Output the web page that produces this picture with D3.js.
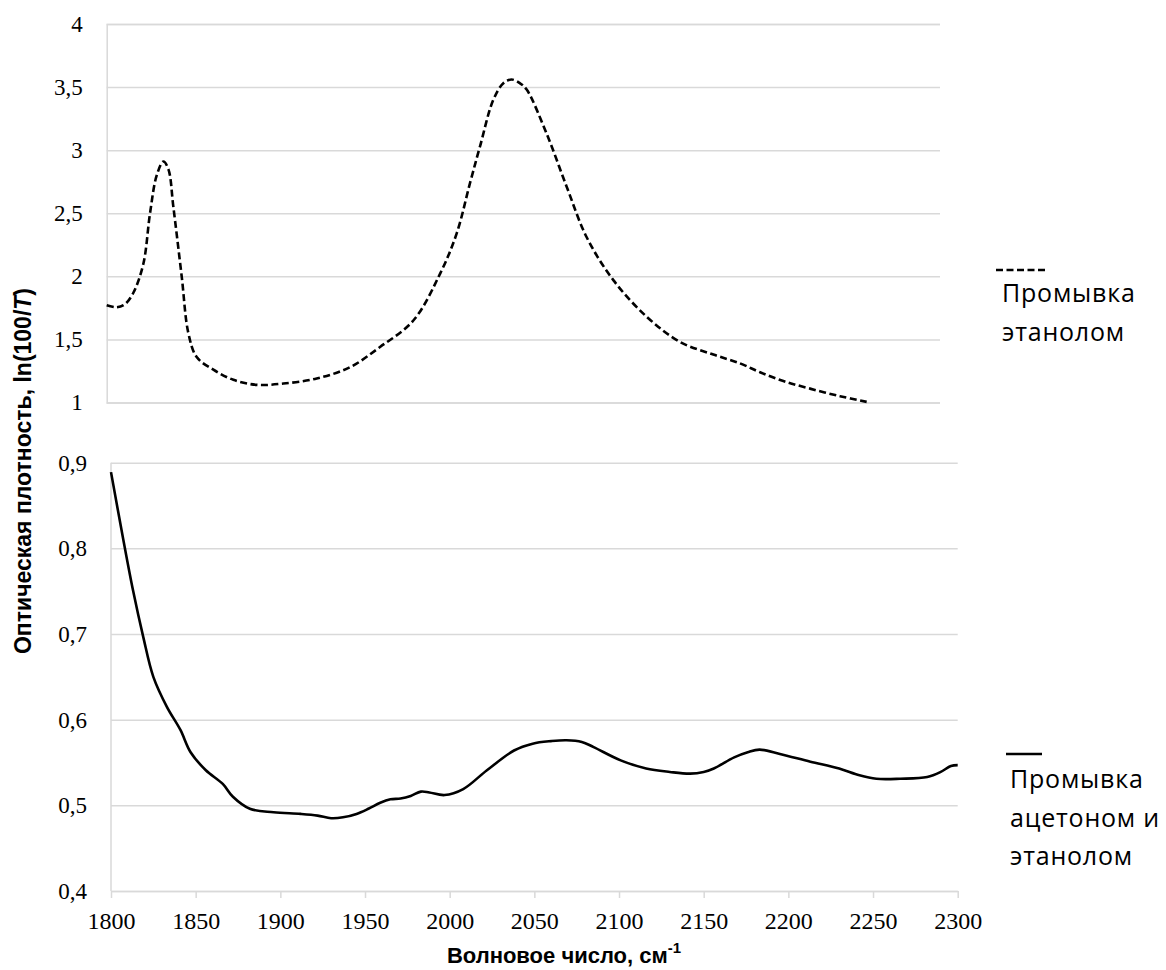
<html>
<head>
<meta charset="utf-8">
<script src="https://cdnjs.cloudflare.com/ajax/libs/d3/7.8.5/d3.min.js"></script>
<style>
body { margin: 0; background: white; }
#canvas { background-color: white; display: block; }
</style>
</head>
<body>
<svg id="canvas" width="1166" height="970"></svg>
<script>
// ---- data ----
var wnTicks = [1800, 1850, 1900, 1950, 2000, 2050, 2100, 2150, 2200, 2250, 2300];
var topTicks = [1, 1.5, 2, 2.5, 3, 3.5, 4];
var botTicks = [0.4, 0.5, 0.6, 0.7, 0.8, 0.9];

// Промывка этанолом (dashed, upper panel)
var ethWn  = [1800, 1806, 1811, 1816, 1822, 1826, 1830, 1834, 1837, 1840, 1845, 1849, 1854, 1864, 1876, 1890, 1906, 1926, 1946, 1964, 1984, 2000, 2010, 2018, 2024, 2032, 2038, 2043, 2048, 2052, 2064, 2076, 2088, 2104, 2124, 2144, 2164, 2180, 2192, 2206, 2222, 2240, 2256];
var ethVal = [1.77, 1.755, 1.78, 1.87, 2.10, 2.50, 2.80, 2.91, 2.85, 2.55, 2.00, 1.55, 1.36, 1.26, 1.18, 1.14, 1.15, 1.19, 1.28, 1.44, 1.65, 2.02, 2.34, 2.74, 3.03, 3.40, 3.53, 3.56, 3.53, 3.48, 3.13, 2.71, 2.31, 1.97, 1.68, 1.48, 1.38, 1.31, 1.24, 1.17, 1.11, 1.05, 1.005];

// Промывка ацетоном и этанолом (solid, lower panel)
var aceWn  = [1800, 1807, 1813, 1819, 1825, 1833, 1841, 1847, 1856, 1866, 1872, 1882, 1896, 1912, 1922, 1930, 1937, 1945, 1952, 1959, 1965, 1971, 1977, 1983, 1988, 1997, 2008, 2022, 2038, 2049, 2060, 2069, 2078, 2085, 2101, 2116, 2130, 2142, 2150, 2156, 2168, 2176, 2183, 2195, 2213, 2230, 2242, 2252, 2266, 2282, 2290, 2296, 2300];
var aceVal = [0.889, 0.813, 0.751, 0.697, 0.650, 0.615, 0.588, 0.562, 0.541, 0.525, 0.510, 0.496, 0.492, 0.490, 0.488, 0.485, 0.486, 0.490, 0.496, 0.503, 0.507, 0.508, 0.511, 0.516, 0.515, 0.512, 0.519, 0.541, 0.564, 0.572, 0.575, 0.576, 0.574, 0.568, 0.5525, 0.543, 0.539, 0.537, 0.539, 0.543, 0.556, 0.562, 0.565, 0.560, 0.551, 0.543, 0.535, 0.531, 0.531, 0.533, 0.539, 0.546, 0.547];

var legendEth = ["Промывка", "этанолом"];
var legendAce = ["Промывка", "ацетоном и", "этанолом"];

var fmt = function(d) { return String(d).replace(".", ","); };

var svg = d3.select("#canvas");
var gridColor = "#d9d9d9";
var serif = "'Liberation Serif', 'Times New Roman', serif";
var sans = "'Liberation Sans', Arial, sans-serif";
var legendFont = "'Open Sans', 'Noto Sans', sans-serif";

// ---- scales ----
var xTop = d3.scaleLinear().domain([1800, 2300]).range([106.7, 940]);
var yTop = d3.scaleLinear().domain([1, 4]).range([402.5, 24]);
var xBot = d3.scaleLinear().domain([1800, 2300]).range([111, 957.7]);
var yBot = d3.scaleLinear().domain([0.4, 0.9]).range([891, 462.7]);

// ---- upper panel ----
var gTop = svg.append("g");
gTop.append("g")
    .attr("transform", "translate(" + xTop.range()[0] + ",0)")
    .call(d3.axisLeft(yTop).tickValues(topTicks).tickSize(-(xTop.range()[1] - xTop.range()[0])).tickFormat(fmt))
    .call(function(g) {
        g.select(".domain").attr("stroke", gridColor).attr("stroke-width", 1.5);
        g.selectAll(".tick line").attr("stroke", gridColor).attr("stroke-width", 1.5);
        g.selectAll(".tick text").attr("x", -24).attr("font-family", serif).attr("font-size", 23).attr("fill", "#000");
    });

var lineTop = d3.line()
    .x(function(d, i) { return xTop(ethWn[i]); })
    .y(function(d) { return yTop(d); })
    .curve(d3.curveCatmullRom.alpha(0.5));

gTop.append("path")
    .datum(ethVal)
    .attr("d", lineTop)
    .attr("fill", "none")
    .attr("stroke", "#000")
    .attr("stroke-width", 2.6)
    .attr("stroke-dasharray", "7,3.5");

// ---- lower panel ----
var gBot = svg.append("g");
gBot.append("g")
    .attr("transform", "translate(" + xBot.range()[0] + ",0)")
    .call(d3.axisLeft(yBot).tickValues(botTicks).tickSize(-(xBot.range()[1] - xBot.range()[0])).tickFormat(fmt))
    .call(function(g) {
        g.select(".domain").remove();
        g.selectAll(".tick line").attr("stroke", gridColor).attr("stroke-width", 1.5);
        g.selectAll(".tick text").attr("x", -24).attr("font-family", serif).attr("font-size", 23).attr("fill", "#000");
    });

gBot.append("g")
    .attr("transform", "translate(0," + yBot.range()[0] + ")")
    .call(d3.axisBottom(xBot).tickValues(wnTicks).tickSize(7).tickSizeOuter(0).tickPadding(14).tickFormat(d3.format("d")))
    .call(function(g) {
        g.select(".domain").attr("stroke", gridColor).attr("stroke-width", 1.5);
        g.selectAll(".tick line").attr("stroke", gridColor).attr("stroke-width", 1.5);
        g.selectAll(".tick text").attr("font-family", serif).attr("font-size", 24).attr("fill", "#000");
    });

// left axis line of lower panel
gBot.append("line")
    .attr("x1", xBot.range()[0]).attr("x2", xBot.range()[0])
    .attr("y1", yBot.range()[1]).attr("y2", yBot.range()[0])
    .attr("stroke", gridColor).attr("stroke-width", 1.5);

var lineBot = d3.line()
    .x(function(d, i) { return xBot(aceWn[i]); })
    .y(function(d) { return yBot(d); })
    .curve(d3.curveCatmullRom.alpha(0.5));

gBot.append("path")
    .datum(aceVal)
    .attr("d", lineBot)
    .attr("fill", "none")
    .attr("stroke", "#000")
    .attr("stroke-width", 2.6);

// ---- axis titles ----
var yTitle = svg.append("text")
    .attr("transform", "translate(31,471) rotate(-90)")
    .attr("text-anchor", "middle")
    .attr("font-family", sans)
    .attr("font-weight", "bold")
    .attr("font-size", 23)
    .attr("fill", "#000");
yTitle.append("tspan").text("Оптическая плотность, ln(100/");
yTitle.append("tspan").attr("font-style", "italic").text("T");
yTitle.append("tspan").text(")");

var xTitle = svg.append("text")
    .attr("x", 564).attr("y", 963)
    .attr("text-anchor", "middle")
    .attr("font-family", sans)
    .attr("font-weight", "bold")
    .attr("font-size", 22)
    .attr("fill", "#000");
xTitle.append("tspan").text("Волновое число, см");
xTitle.append("tspan").attr("dy", -10).attr("font-size", 15).text("-1");

// ---- legends ----
svg.append("line")
    .attr("x1", 996).attr("x2", 1046).attr("y1", 270).attr("y2", 270)
    .attr("stroke", "#000").attr("stroke-width", 2.6).attr("stroke-dasharray", "7,3.5");
svg.selectAll("text.leg1").data(legendEth).enter().append("text")
    .attr("class", "leg1")
    .attr("x", 1002).attr("y", function(d, i) { return 301.7 + i * 39; })
    .attr("font-family", legendFont).attr("font-size", 25).attr("letter-spacing", 0.8).attr("fill", "#000")
    .text(function(d) { return d; });

svg.append("line")
    .attr("x1", 1006).attr("x2", 1042).attr("y1", 754).attr("y2", 754)
    .attr("stroke", "#000").attr("stroke-width", 2.6);
svg.selectAll("text.leg2").data(legendAce).enter().append("text")
    .attr("class", "leg2")
    .attr("x", 1010).attr("y", function(d, i) { return 788 + i * 38.5; })
    .attr("font-family", legendFont).attr("font-size", 25).attr("letter-spacing", 0.8).attr("fill", "#000")
    .text(function(d) { return d; });
</script>
</body>
</html>
